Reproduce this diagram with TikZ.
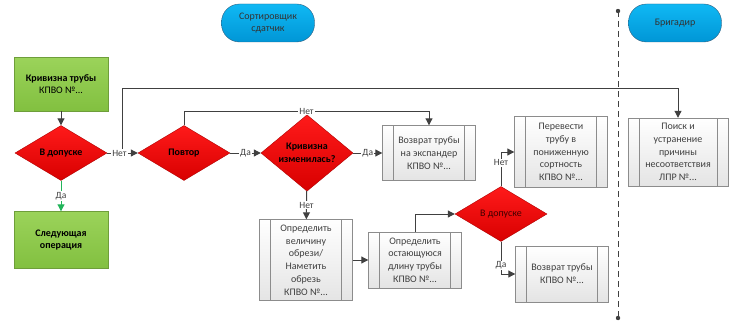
\documentclass[tikz,border=0pt]{standalone}
\usepackage{fontspec}
\setmainfont{Carlito}
\usepackage{xcolor}
\usetikzlibrary{shapes.geometric,arrows.meta}
\definecolor{linegray}{HTML}{404040}
\definecolor{boxgray}{HTML}{8C8C8C}
\definecolor{boxfill}{HTML}{E4E4E4}
\definecolor{textgray}{HTML}{404040}
\definecolor{redtop}{HTML}{FF1A1A}
\definecolor{redbot}{HTML}{D80000}
\definecolor{redline}{HTML}{B00000}
\definecolor{greentop}{HTML}{9BD35A}
\definecolor{greenbot}{HTML}{82C040}
\definecolor{greenline}{HTML}{6E9E3A}
\definecolor{bluetop}{HTML}{10B8F4}
\definecolor{bluebot}{HTML}{0096D6}
\definecolor{blueline}{HTML}{2F5F80}
\definecolor{yesgreen}{HTML}{22B45A}

\begin{document}
\begin{tikzpicture}[x=1pt, y=-1pt,
		every node/.style={align=center, font=\fontsize{10}{12.8}\selectfont},
		arr/.style={draw=linegray, line width=1pt, -{Triangle[length=7pt,width=7pt]}},
		lbl/.style={fill=white, inner sep=1pt, text=textgray, font=\fontsize{9.5}{10}\selectfont},
		term/.style={rectangle, rounded corners=18pt, draw=blueline, top color=bluetop, bottom color=bluebot, minimum width=93pt, minimum height=38pt, inner sep=0pt, text=black!80},
		startbox/.style={rectangle, draw=greenline, top color=greentop, bottom color=greenbot, minimum width=94pt, inner sep=0pt, text=black},
		decision/.style={diamond, draw=redline, top color=redtop, bottom color=redbot, minimum width=92pt, minimum height=55pt, inner sep=0pt, text=black, font=\fontsize{10}{12.8}\selectfont\bfseries},
		procbox/.style={rectangle, draw=boxgray, top color=white, bottom color=boxfill, minimum width=93pt, inner sep=0pt, text=textgray,
			path picture={\draw[boxgray] ([xshift=11pt]path picture bounding box.north west) -- ([xshift=11pt]path picture bounding box.south west)
				([xshift=-11pt]path picture bounding box.north east) -- ([xshift=-11pt]path picture bounding box.south east);}}
	]
		\useasboundingbox (0,0) rectangle (735,321);
		\node[term] (sorter) at (268,23) {Сортировщик\\сдатчик};
		\node[term] (foreman) at (675,23) {Бригадир};
		\coordinate (laneTop) at (618,11);
		\coordinate (laneBot) at (618,318);
		\draw[linegray, dashed, dash pattern=on 6pt off 4pt, line width=0.9pt] (laneTop) -- (laneBot);
		\fill[linegray] (laneTop) circle (2.2pt) (laneBot) circle (2.2pt);

		\node[startbox, minimum height=54pt] (start) at (61,84) {\textbf{Кривизна трубы}\\КПВО №...};
		\node[decision] (ok1) at (61,153) {В допуске};
		\node[startbox, minimum height=57pt, font=\fontsize{10}{12.8}\selectfont\bfseries] (next) at (61,240) {Следующая\\операция};
		\node[decision] (repeat) at (184,153) {Повтор};
		\node[decision] (changed) at (307,153) {Кривизна\\изменилась?};
		\node[procbox, minimum height=55pt] (ret1) at (429,153) {Возврат трубы\\на экспандер\\КПВО №...};
		\node[procbox, minimum height=81pt] (cut) at (306,260) {Определить\\величину\\обрези/\\Наметить\\обрезь\\КПВО №...};
		\node[procbox, minimum height=56pt] (remain) at (415,260) {Определить\\остающуюся\\длину трубы\\КПВО №...};
		\node[decision, font=\fontsize{10}{12.8}\selectfont, text=black!75!red] (ok2) at (501,214) {В допуске};
		\node[procbox, minimum height=71pt] (downgrade) at (561,152) {Перевести\\трубу в\\пониженную\\сортность\\КПВО №...};
		\node[procbox, minimum height=56pt] (back) at (562,274) {Возврат трубы\\КПВО №...};
		\node[procbox, minimum width=100pt, minimum height=68pt] (search) at (678,152) {Поиск и\\устранение\\причины\\несоответствия\\ЛПР №...};

		\coordinate (fork) at (122,153);
		\coordinate (topA) at (122,88);
		\coordinate (topB) at (184,111);
		\draw[arr] (start) -- (ok1);
		\draw[arr, draw=yesgreen] (ok1) -- node[lbl]{Да} (next);
		\draw[arr] (fork) -- (topA) -| (search);
		\draw[arr] (ok1) -- node[lbl, pos=0.4]{Нет} (repeat);
		\draw[arr] (repeat) -- (topB) -| node[lbl, pos=0.25]{Нет} (ret1);
		\draw[arr] (repeat) -- node[lbl]{Да} (changed);
		\draw[arr] (changed) -- node[lbl]{Да} (ret1);
		\draw[arr] (changed) -- node[lbl]{Нет} (cut);
		\draw[arr] (cut) -- (remain);
		\draw[arr] (remain) |- (ok2);
		\draw[arr] (ok2) |- node[lbl, pos=0.34]{Нет} (downgrade);
		\draw[arr] (ok2) |- node[lbl, pos=0.37]{Да} (back);
	\end{tikzpicture}
\end{document}
